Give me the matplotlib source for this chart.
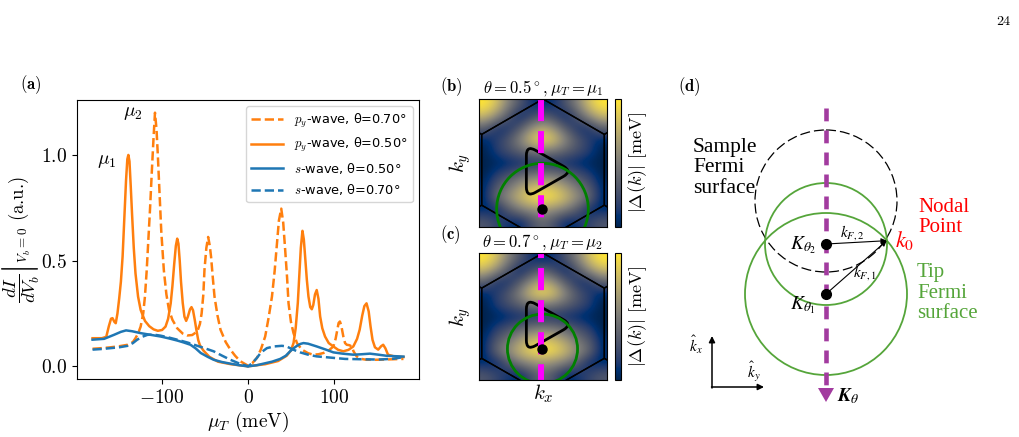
import numpy as np
import matplotlib
matplotlib.use("Agg")
import matplotlib.pyplot as plt
from matplotlib.patches import Circle, PathPatch, Polygon
from matplotlib.path import Path

plt.rcParams['font.family'] = 'serif'
plt.rcParams['font.serif'] = ['cmr10']
plt.rcParams['mathtext.fontset'] = 'cm'
plt.rcParams['axes.formatter.use_mathtext'] = True

W, H = 1019, 437

# ---- panel (a): dI/dV at zero bias vs tip chemical potential ----
mu_py07 = [-181, -170, -160, -150, -140, -134, -131, -128, -125, -122, -120, -118, -116, -114,
           -112, -110, -108.3, -106.5, -105, -103, -101, -98, -95, -92, -88, -82.4, -76, -70.8,
           -65, -59, -56, -54, -52, -50.7, -48.5, -46.4, -44.5, -43, -41, -39, -35.5, -32, -26,
           -20.5, -15, -9, 0, 5, 10.4, 15, 20, 24, 27.9, 31, 33.7, 36, 38.7, 41, 43.3, 45.5, 47.2,
           50, 53, 57, 62.7, 70, 76, 82, 87.8, 94, 99.4, 102, 104, 105.5, 107, 108.5, 111, 113,
           115, 118, 120.7, 123, 126.5, 132, 138, 150, 165, 181]
dIdV_py07 = [0.083, 0.086, 0.09, 0.095, 0.102, 0.115, 0.133, 0.155, 0.188, 0.25, 0.33, 0.45, 0.6, 0.75,
             0.92, 1.08, 1.2, 1.12, 1.0, 0.82, 0.64, 0.455, 0.34, 0.267, 0.22, 0.18, 0.155, 0.146,
             0.148, 0.165, 0.2, 0.25, 0.34, 0.455, 0.56, 0.612, 0.57, 0.518, 0.42, 0.33, 0.24, 0.173, 0.115,
             0.079, 0.05, 0.024, 0.003, 0.015, 0.04, 0.08, 0.141, 0.23, 0.33, 0.45, 0.58, 0.69, 0.746, 0.68,
             0.55, 0.42, 0.298, 0.21, 0.157, 0.11, 0.079, 0.062, 0.055, 0.057, 0.063, 0.075, 0.094, 0.13,
             0.173, 0.205, 0.212, 0.195, 0.141, 0.11, 0.102, 0.1, 0.094, 0.07, 0.047, 0.035, 0.031, 0.031,
             0.033, 0.035]

mu_py05 = [-181, -170, -165, -162, -159.5, -157.8, -155.5, -154, -152, -150, -148, -146, -144, -142,
           -140.5, -139.3, -138, -136.5, -135, -133, -131, -128, -125, -120, -115, -110, -105, -100,
           -96, -93, -90, -88, -86, -84, -82.4, -81, -79.5, -78, -76, -74, -72, -70, -67.5, -65.8,
           -64, -62, -60, -58, -56, -52, -45, -35, -20, 0, 20, 35, 45, 50, 53, 55.5, 58, 60, 61.5,
           63.4, 65, 66.5, 68.5, 70.4, 72.5, 74.3, 76, 78, 80, 82, 84, 86.5, 89.7, 94, 99.4, 105,
           111, 117, 122.6, 127, 130, 133, 135.5, 138, 140.5, 142.7, 145, 147.8, 151.6, 155, 157.4,
           160, 163, 170, 181]
dIdV_py05 = [0.133, 0.133, 0.14, 0.19, 0.225, 0.228, 0.21, 0.204, 0.25, 0.32, 0.40, 0.52, 0.70, 0.88,
             0.98, 1.0, 0.97, 0.85, 0.72, 0.56, 0.44, 0.33, 0.267, 0.215, 0.19, 0.175, 0.168, 0.172,
             0.188, 0.225, 0.298, 0.38, 0.48, 0.57, 0.604, 0.58, 0.5, 0.4, 0.3, 0.235, 0.215, 0.235, 0.27, 0.28,
             0.265, 0.22, 0.17, 0.125, 0.1, 0.075, 0.045, 0.022, 0.01, 0.0, 0.01, 0.025, 0.05, 0.075, 0.11,
             0.18, 0.3, 0.45, 0.56, 0.641, 0.6, 0.52, 0.41, 0.33, 0.28, 0.27, 0.29, 0.34, 0.361, 0.32,
             0.236, 0.18, 0.141, 0.11, 0.094, 0.078, 0.071, 0.078, 0.094, 0.13, 0.173, 0.24, 0.285, 0.298,
             0.26, 0.188, 0.125, 0.09, 0.079, 0.095, 0.102, 0.085, 0.055, 0.047, 0.044]

mu_s05 = [-181, -167.5, -156, -148, -142, -135, -125, -112, -101.7, -92, -82.4, -75, -67, -61, -55,
          -47, -40, -30, -20.5, -10, 0, 10, 18, 28, 37.5, 44, 49, 53, 57, 61, 64.6, 70, 80, 90, 99.4,
          110, 122.6, 132, 142, 152, 161, 181]
dIdV_s05 = [0.126, 0.13, 0.149, 0.163, 0.17, 0.166, 0.157, 0.148, 0.141, 0.132, 0.122, 0.113, 0.102,
            0.085, 0.063, 0.045, 0.031, 0.02, 0.0126, 0.005, 0.0, 0.005, 0.0126, 0.022, 0.035, 0.05,
            0.071, 0.085, 0.097, 0.106, 0.11, 0.107, 0.094, 0.08, 0.066, 0.06, 0.055, 0.057, 0.06, 0.055,
            0.05, 0.046]

mu_s07 = [-181, -170, -160, -150, -140, -134, -129, -123, -117, -110, -101.7, -92, -82.4, -70, -59,
          -50, -40, -30, -20.5, -10, 0, 5, 10.4, 15, 22, 30, 39.5, 45, 49, 55, 60.7, 70, 80, 99.4,
          113, 138, 152, 170, 181]
dIdV_s07 = [0.079, 0.082, 0.086, 0.09, 0.097, 0.11, 0.126, 0.14, 0.149, 0.15, 0.145, 0.136, 0.126,
            0.112, 0.097, 0.085, 0.071, 0.05, 0.031, 0.013, 0.0, 0.015, 0.04, 0.065, 0.086, 0.094,
            0.097, 0.094, 0.086, 0.075, 0.066, 0.055, 0.047, 0.04, 0.035, 0.033, 0.032, 0.036, 0.044]

# ---- panels (b),(c): |Delta(k)| map, rows top->bottom ----
gap_map = [
    [1.0, 0.85, 0.55, 0.3, 0.1, 0.05, 0.1, 0.3, 0.55, 0.85, 1.0],
    [0.8, 0.6, 0.3, 0.05, 0.2, 0.35, 0.2, 0.05, 0.3, 0.6, 0.8],
    [0.35, 0.1, 0.1, 0.3, 0.6, 0.75, 0.6, 0.3, 0.1, 0.1, 0.35],
    [0.05, 0.15, 0.3, 0.55, 0.85, 0.95, 0.85, 0.55, 0.3, 0.15, 0.05],
    [0.0, 0.15, 0.25, 0.35, 0.45, 0.5, 0.45, 0.35, 0.25, 0.15, 0.0],
    [0.0, 0.02, 0.05, 0.08, 0.1, 0.1, 0.1, 0.08, 0.05, 0.02, 0.0],
    [0.0, 0.15, 0.25, 0.35, 0.45, 0.5, 0.45, 0.35, 0.25, 0.15, 0.0],
    [0.05, 0.3, 0.45, 0.65, 0.8, 0.85, 0.8, 0.65, 0.45, 0.3, 0.05],
    [0.05, 0.4, 0.6, 0.8, 0.95, 1.0, 0.95, 0.8, 0.6, 0.4, 0.05],
    [0.05, 0.05, 0.3, 0.5, 0.6, 0.65, 0.6, 0.5, 0.3, 0.05, 0.05],
    [0.3, 0.2, 0.1, 0.05, 0.25, 0.4, 0.25, 0.05, 0.1, 0.2, 0.3],
]
map_titles = [r'$\theta=0.5^\circ, \mu_T=\mu_1$', r'$\theta=0.7^\circ, \mu_T=\mu_2$']
tip_centres = [(0.496, 0.86), (0.496, 0.755)]   # (kx, ky) in panel units, ky downwards
tip_radii = [0.358, 0.274]
node_tri = [(0.37, 0.36), (0.37, 0.77), (0.73, 0.565)]
hex_centre, hex_R = (0.5, 0.553), 0.553


def px_box(x0, y0, x1, y1):
    return [x0 / W, 1 - y1 / H, (x1 - x0) / W, (y1 - y0) / H]


def rounded_path(verts, f=0.2):
    verts = [np.array(v) for v in verts]
    pts, codes = [], []
    for i, p in enumerate(verts):
        a = p + f * (verts[i - 1] - p)
        b = p + f * (verts[(i + 1) % len(verts)] - p)
        pts += [a, p, b]
        codes += [Path.MOVETO if i == 0 else Path.LINETO, Path.CURVE3, Path.CURVE3]
    pts.append(pts[0])
    codes.append(Path.LINETO)
    return Path(pts, codes)


fig = plt.figure(figsize=(W / 100, H / 100), dpi=100)

# ---------------- (a) ----------------
ax = fig.add_axes(px_box(77, 100, 419, 379))
ax.plot(mu_py07, dIdV_py07, color='C1', ls='--', lw=1.8, label=r'$p_y$-wave, θ=0.70°')
ax.plot(mu_py05, dIdV_py05, color='C1', lw=1.8, label=r'$p_y$-wave, θ=0.50°')
ax.plot(mu_s05, dIdV_s05, color='C0', lw=1.8, label=r'$s$-wave, θ=0.50°')
ax.plot(mu_s07, dIdV_s07, color='C0', ls='--', lw=1.8, label=r'$s$-wave, θ=0.70°')
ax.set_xticks([-100, 0, 100])
ax.set_yticks([0, 0.5, 1.0])
ax.tick_params(labelsize=14)
ax.set_xlabel(r'$\mu_T$ (meV)', fontsize=14, labelpad=2)
ax.set_ylabel(r'$\left.\dfrac{dI}{dV_b}\right|_{V_b=0}$ (a.u.)', fontsize=13.5, labelpad=0)
ax.text(-164, 0.97, r'$\mu_1$', fontsize=14, ha='center', va='center')
ax.text(-134, 1.2, r'$\mu_2$', fontsize=14, ha='center', va='center')
ax.legend(loc='upper right', prop={'family': 'DejaVu Sans', 'size': 9.3},
          handlelength=2.5, borderaxespad=0.5)

# ---------------- (b), (c) ----------------
img_boxes = [(479, 99, 607, 227), (479, 253, 607, 380)]
for k in range(2):
    x0, y0, x1, y1 = img_boxes[k]
    axi = fig.add_axes(px_box(x0, y0, x1, y1))
    im = axi.imshow(gap_map, cmap='cividis', extent=(0, 1, 1, 0), aspect='auto',
                    interpolation='bicubic', vmin=0, vmax=1)
    # honeycomb Brillouin zones
    hw = hex_R * np.sqrt(3) / 2
    ang = np.deg2rad(np.arange(90, 450, 60))
    for dx, dy in [(0, 0), (2 * hw, 0), (-2 * hw, 0), (hw, 1.5 * hex_R), (-hw, 1.5 * hex_R),
                   (hw, -1.5 * hex_R), (-hw, -1.5 * hex_R)]:
        cx, cy = hex_centre[0] + dx, hex_centre[1] + dy
        axi.add_patch(Polygon(np.c_[cx + hex_R * np.cos(ang), cy - hex_R * np.sin(ang)],
                              closed=True, fill=False, ec='k', lw=1.0))
    axi.plot([0.483, 0.483], [0, 1], color='magenta', lw=4.3,
             ls=(0 if k == 0 else 2.85, (3.7, 1.67)))
    axi.add_patch(PathPatch(rounded_path(node_tri), fill=False, ec='k', lw=2.0))
    axi.add_patch(Circle(tip_centres[k], tip_radii[k], fill=False, ec='green', lw=2.0))
    axi.plot(*tip_centres[k], 'ko', ms=6.5)
    axi.set_xlim(0, 1)
    axi.set_ylim(1, 0)
    axi.set_xticks([])
    axi.set_yticks([])
    axi.set_ylabel(r'$k_y$', fontsize=15)
    axi.set_title(map_titles[k], fontsize=12, pad=5)
    if k == 1:
        axi.set_xlabel(r'$k_x$', fontsize=15, labelpad=2)
    cax = fig.add_axes(px_box(615, y0, 621, y1))
    cb = fig.colorbar(im, cax=cax, ticks=[])
    cb.outline.set_linewidth(0.8)
    cb.set_label(r'$|\Delta(k)|$ [meV]', fontsize=13, labelpad=4)

# ---------------- (d) schematic ----------------
axis_x = 826
K2, K1, k0 = (826, 244), (826, 294), (886.7, 240.7)
sample_c, sample_r = (826, 201), 71
tip_r2, tip_r1 = 61, 81
purple = '#A23B9F'
tipgreen = '#55A53A'

axd = fig.add_axes([660 / W, 0, 359 / W, 367 / H])
axd.set_xlim(660, 1019)
axd.set_ylim(437, 70)
axd.axis('off')
axd.add_patch(Circle(sample_c, sample_r, fill=False, ec='k', lw=0.9, ls=(0, (8, 3.2))))
axd.add_patch(Circle(K2, tip_r2, fill=False, ec=tipgreen, lw=1.3))
axd.add_patch(Circle(K1, tip_r1, fill=False, ec=tipgreen, lw=1.3))
axd.plot([axis_x, axis_x], [108, 388], color=purple, lw=3.3, ls=(0, (2.8, 2.0)))
axd.add_patch(Polygon([(axis_x - 8, 388), (axis_x + 8, 388), (axis_x, 402)], closed=True,
                      color=purple, lw=0))
axd.plot(*K2, 'ko', ms=7, zorder=5)
axd.plot(*K1, 'ko', ms=7, zorder=5)
for start in (K2, K1):
    axd.annotate('', xy=k0, xytext=start,
                 arrowprops=dict(arrowstyle='-|>', lw=0.8, color='k', mutation_scale=8,
                                 shrinkA=0, shrinkB=0))
axd.annotate('', xy=(712, 336), xytext=(712, 388),
             arrowprops=dict(arrowstyle='-|>', lw=1.1, color='k', mutation_scale=9, shrinkA=0, shrinkB=0))
axd.annotate('', xy=(764, 387), xytext=(711.5, 387),
             arrowprops=dict(arrowstyle='-|>', lw=1.1, color='k', mutation_scale=9, shrinkA=0, shrinkB=0))

serif_d = 'Liberation Serif'
axd.text(693, 168, 'Sample\nFermi\nsurface', fontfamily=serif_d, fontsize=15.5, ha='left',
         va='center', linespacing=1.1)
axd.text(918, 217.5, 'Nodal\nPoint', fontfamily=serif_d, fontsize=15, color='red', ha='left',
         va='center', linespacing=1.1)
axd.text(917, 293, 'Tip\nFermi\nsurface', fontfamily=serif_d, fontsize=15, color=tipgreen,
         ha='left', va='center', linespacing=1.1)
mt = dict(math_fontfamily='stix', ha='center', va='center')
axd.text(803, 245, r'$K_{\theta_2}$', fontsize=14, **mt)
axd.text(803, 305, r'$K_{\theta_1}$', fontsize=14, **mt)
axd.text(852, 233, r'$k_{F,2}$', fontsize=11, **mt)
axd.text(865, 273, r'$k_{F,1}$', fontsize=11, **mt)
axd.text(905, 240, r'$k_0$', fontsize=16, color='red', **mt)
axd.text(696, 345, r'$\hat{k}_x$', fontsize=11, **mt)
axd.text(754, 372, r'$\hat{k}_y$', fontsize=11, **mt)
axd.text(848, 396, r'$\mathbfit{K}_\theta$', fontsize=14, **mt)

# panel labels and page number
for lab, (x, y) in zip('abcd', [(20, 85), (440, 87), (440, 235), (678, 87)]):
    fig.text(x / W, 1 - y / H, r'$\mathbf{(%s)}$' % lab, fontsize=12, ha='left', va='center')
fig.text(1010 / W, 1 - 22 / H, '24', fontsize=10, ha='right', va='center')

fig.savefig('out.png', dpi=100)
